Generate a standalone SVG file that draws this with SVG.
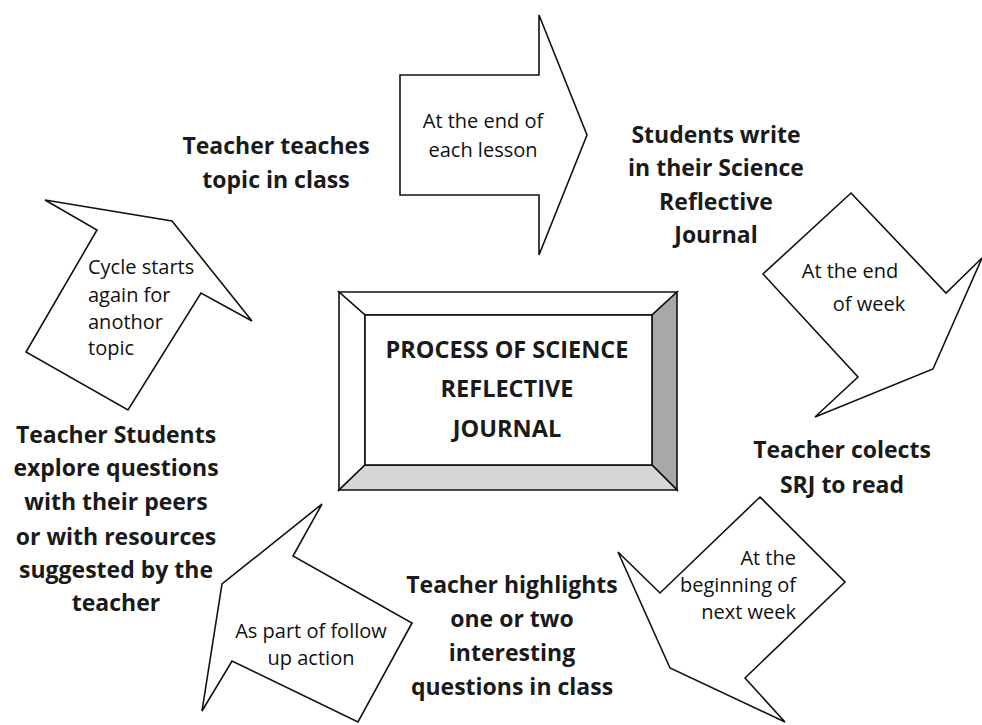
<svg xmlns="http://www.w3.org/2000/svg" width="982" height="725" viewBox="0 0 982 725">
<style>
.big{font-family:"Open Sans","Liberation Sans",sans-serif;font-weight:bold;font-size:23px;fill:#1a1a1a;text-anchor:middle}
.ttl{font-family:"Open Sans","Liberation Sans",sans-serif;font-weight:bold;font-size:23.5px;fill:#1a1a1a;text-anchor:middle}
.sm{font-family:"Open Sans","Liberation Sans",sans-serif;font-size:20px;fill:#111}
.c{text-anchor:middle}
.r{text-anchor:end}
.l{text-anchor:start}
.arr{fill:#fff;stroke:#111;stroke-width:1.6;stroke-linejoin:miter}
.bev{stroke:#111;stroke-width:1.6;stroke-linejoin:miter}
</style>
<rect width="982" height="725" fill="#fff"/>

<g id="center-box">
  <polygon class="bev" fill="#fff" points="339,292 677,292 652,315 365,315"/>
  <polygon class="bev" fill="#fff" points="339,292 365,315 365,465 339,490"/>
  <polygon class="bev" fill="#a8a8a8" points="677,292 677,490 652,465 652,315"/>
  <polygon class="bev" fill="#d6d6d6" points="339,490 677,490 652,465 365,465"/>
  <rect class="bev" fill="#fff" x="365" y="315" width="287" height="150"/>
  <text class="ttl" x="507" y="358">PROCESS OF SCIENCE</text>
  <text class="ttl" x="507" y="397">REFLECTIVE</text>
  <text class="ttl" x="507" y="437">JOURNAL</text>
</g>

<g id="step-teach">
  <text class="big" x="276" y="154">Teacher teaches</text>
  <text class="big" x="276" y="188">topic in class</text>
</g>

<g id="step-write">
  <text class="big" x="716" y="143">Students write</text>
  <text class="big" x="716" y="176">in their Science</text>
  <text class="big" x="716" y="210">Reflective</text>
  <text class="big" x="716" y="243">Journal</text>
</g>

<g id="step-collect">
  <text class="big" x="842" y="458">Teacher colects</text>
  <text class="big" x="842" y="493">SRJ to read</text>
</g>

<g id="step-highlight">
  <text class="big" x="512" y="593">Teacher highlights</text>
  <text class="big" x="512" y="627">one or two</text>
  <text class="big" x="512" y="661">interesting</text>
  <text class="big" x="512" y="695">questions in class</text>
</g>

<g id="step-explore">
  <text class="big" x="116" y="443">Teacher Students</text>
  <text class="big" x="116" y="476">explore questions</text>
  <text class="big" x="116" y="510">with their peers</text>
  <text class="big" x="116" y="545">or with resources</text>
  <text class="big" x="116" y="578">suggested by the</text>
  <text class="big" x="116" y="611">teacher</text>
</g>

<g id="connectors">
  <g id="arrow-top">
    <polygon class="arr" points="400,75 539,75 539,15 587,135 539,255 539,195 400,195"/>
    <text class="sm c" x="483" y="128">At the end of</text>
    <text class="sm c" x="483" y="157">each lesson</text>
  </g>
  <g id="arrow-right">
    <polygon class="arr" points="851,193 946,293 982,258 933,369 815,417 858,377 763,274"/>
    <text class="sm c" x="850" y="278">At the end</text>
    <text class="sm c" x="869" y="311">of week</text>
  </g>
  <g id="arrow-bottom-right">
    <polygon class="arr" points="760,497 845,582 745,678 785,722 670,668 618,552 660,593"/>
    <text class="sm r" x="796" y="565">At the</text>
    <text class="sm r" x="796" y="592">beginning of</text>
    <text class="sm r" x="796" y="619">next week</text>
  </g>
  <g id="arrow-bottom-left">
    <polygon class="arr" points="322,504 293,556 412,623 358,722 232,661 202,711 222,584"/>
    <text class="sm c" x="311" y="638">As part of follow</text>
    <text class="sm c" x="311" y="665">up action</text>
  </g>
  <g id="arrow-top-left">
    <polygon class="arr" points="45,200 172,221 252,321 201,293 128,410 26,352 97,230"/>
    <text class="sm l" x="88" y="274">Cycle starts</text>
    <text class="sm l" x="88" y="302">again for</text>
    <text class="sm l" x="88" y="329">anothor</text>
    <text class="sm l" x="88" y="355">topic</text>
  </g>
</g>
</svg>
